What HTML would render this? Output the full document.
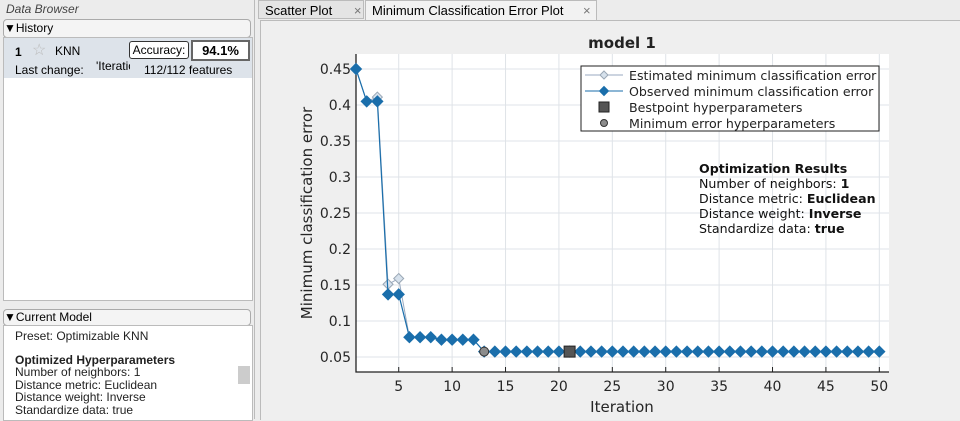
<!DOCTYPE html>
<html><head><meta charset="utf-8"><style>
body{margin:0;width:960px;height:419px;background:#ececec;font-family:"Liberation Sans",sans-serif;overflow:hidden;position:relative}
.abs{position:absolute}
</style></head><body>
<div class="abs" style="left:0;top:0;width:254px;height:419px;background:#ececec;border-right:1px solid #bbb">
 <div class="abs" style="left:6px;top:2px;font-size:12px;font-style:italic;color:#444">Data Browser</div>
 <div class="abs" style="left:3px;top:19px;width:246px;height:17px;border:1px solid #aaa;border-radius:4px;background:#f4f4f4;font-size:12px;line-height:17px">&#9660;History</div>
 <div class="abs" style="left:3px;top:37px;width:248px;height:262px;background:#fff;border:1px solid #bbb">
  <div class="abs" style="left:0;top:0;width:248px;height:40px;background:#dde3ea;font-size:12px">
   <span class="abs" style="left:11px;top:7px;font-weight:bold">1</span>
   <span class="abs" style="left:28px;top:2px;color:#bbb;font-size:16px">☆</span>
   <span class="abs" style="left:51px;top:6px">KNN</span>
   <span class="abs" style="left:125px;top:3px;width:58px;height:16px;border:1px solid #333;border-radius:3px;background:#fff;text-align:center;line-height:16px">Accuracy:</span>
   <span class="abs" style="left:187px;top:2px;width:55px;height:17px;border:2px solid #666;background:#fff;text-align:center;line-height:17px;font-weight:bold;font-size:13px">94.1%</span>
   <span class="abs" style="left:11px;top:25px">Last change:</span>
   <span class="abs" style="left:92px;top:21px;width:34px;overflow:hidden;height:14px">'Iteratio</span>
   <span class="abs" style="left:140px;top:25px">112/112 features</span>
  </div>
 </div>
 <div class="abs" style="left:3px;top:309px;width:246px;height:15px;border:1px solid #aaa;border-radius:4px;background:#f4f4f4;font-size:12px;line-height:15px">&#9660;Current Model</div>
 <div class="abs" style="left:3px;top:325px;width:248px;height:94px;background:#fff;border:1px solid #bbb;font-size:12px;line-height:12.5px;color:#222">
  <div class="abs" style="left:11px;top:4px">Preset: Optimizable KNN</div>
  <div class="abs" style="left:11px;top:28px;font-weight:bold">Optimized Hyperparameters</div>
  <div class="abs" style="left:11px;top:40px">Number of neighbors: 1<br>Distance metric: Euclidean<br>Distance weight: Inverse<br>Standardize data: true</div>
  <div class="abs" style="left:234px;top:40px;width:12px;height:18px;background:#ccc"></div>
 </div>
</div>
<div class="abs" style="left:258px;top:0;width:106px;height:19px;border:1px solid #bbb;background:#e4e4e4;font-size:13px;line-height:19px;padding-left:6px;box-sizing:border-box">Scatter Plot <span style="margin-left:18px;color:#777">×</span></div>
<div class="abs" style="left:365px;top:0;width:232px;height:20px;border:1px solid #bbb;border-bottom:none;background:#f2f2f2;font-size:13px;line-height:19px;padding-left:6px;box-sizing:border-box">Minimum Classification Error Plot <span style="margin-left:16px;color:#777">×</span></div>
<div class="abs" style="left:260px;top:20px;width:699px;height:399px;border-left:1px solid #bbb;border-top:1px solid #bbb;background:#efefef"></div>
<svg class="abs" style="left:0;top:0" width="960" height="419" id="chart"></svg>
<script>
const iterations=[];for(let i=1;i<=50;i++)iterations.push(i);
const observed=[0.45,0.405,0.405,0.137,0.137,0.0775,0.0775,0.0775,0.074,0.074,0.074,0.074,0.0575,0.0575,0.0575,0.0575,0.0575,0.0575,0.0575,0.0575,0.0575,0.0575,0.0575,0.0575,0.0575,0.0575,0.0575,0.0575,0.0575,0.0575,0.0575,0.0575,0.0575,0.0575,0.0575,0.0575,0.0575,0.0575,0.0575,0.0575,0.0575,0.0575,0.0575,0.0575,0.0575,0.0575,0.0575,0.0575,0.0575,0.0575];
const estimated=[0.45,0.405,0.411,0.151,0.159,0.0775,0.0775,0.0775,0.074,0.074,0.074,0.074,0.0575,0.0575,0.0575,0.0575,0.0575,0.0575,0.0575,0.0575,0.0575,0.0575,0.0575,0.0575,0.0575,0.0575,0.0575,0.0575,0.0575,0.0575,0.0575,0.0575,0.0575,0.0575,0.0575,0.0575,0.0575,0.0575,0.0575,0.0575,0.0575,0.0575,0.0575,0.0575,0.0575,0.0575,0.0575,0.0575,0.0575,0.0575];
const bestpoint=[21,0.0575];
const minErrorPoint=[13,0.0575];
const xTicks=[5,10,15,20,25,30,35,40,45,50];
const yTicks=[0.05,0.1,0.15,0.2,0.25,0.3,0.35,0.4,0.45];
const yTickLabels=["0.05","0.1","0.15","0.2","0.25","0.3","0.35","0.4","0.45"];
const L=356,R=889,T=54,B=372;
const X=v=>356+(v-1)*10.68;
const Y=v=>69+(0.45-v)*720;
const svg=document.getElementById('chart');const NS='http://www.w3.org/2000/svg';
function mk(tag,attrs,txt){const e=document.createElementNS(NS,tag);for(const k in attrs)e.setAttribute(k,attrs[k]);if(txt!==undefined)e.textContent=txt;svg.appendChild(e);return e;}
let e=mk('rect',{x:L,y:T,width:R-L,height:B-T,fill:'#fff'});


xTicks.forEach(t=>{let g=mk('line',{x1:X(t),x2:X(t),y1:T,y2:B,stroke:'#dfe3e8'});


let l=mk('line',{x1:X(t),x2:X(t),y1:B,y2:B-5,stroke:'#222'});


let tx=mk('text',{x:X(t),y:B+19,'font-size':14,'text-anchor':'middle',fill:'#262626','font-family':'DejaVu Sans'},String(t));

});
yTicks.forEach((t,i)=>{let g=mk('line',{x1:L,x2:R,y1:Y(t),y2:Y(t),stroke:'#dfe3e8'});


let tx=mk('text',{x:L-5,y:Y(t)+5,'font-size':14,'text-anchor':'end',fill:'#262626','font-family':'DejaVu Sans'},yTickLabels[i]);

});
e=mk('path',{d:`M${L} ${T}V${B}H${R}`,fill:'none',stroke:'#222','stroke-width':1.3});


function dia(x,y,r,f,s){return mk('path',{d:`M${x} ${y-r}L${x+r} ${y}L${x} ${y+r}L${x-r} ${y}Z`,fill:f,stroke:s});}
e=mk('polyline',{points:iterations.map((v,i)=>X(v)+','+Y(estimated[i])).join(' '),fill:'none',stroke:'#9aaac0','stroke-width':1});


iterations.forEach((v,i)=>{let d=dia(X(v),Y(estimated[i]),5,'#d6e1ec','#9aa7b5');

});
e=mk('polyline',{points:iterations.map((v,i)=>X(v)+','+Y(observed[i])).join(' '),fill:'none',stroke:'#1a6eab','stroke-width':1.2});


iterations.forEach((v,i)=>{let d=dia(X(v),Y(observed[i]),5.5,'#1a6eab','#1a6eab');

});
e=mk('circle',{cx:X(minErrorPoint[0]),cy:Y(minErrorPoint[1]),r:4.5,fill:'#8c8c8c',stroke:'#333'});


e=mk('rect',{x:X(bestpoint[0])-5.5,y:Y(bestpoint[1])-5.5,width:11,height:11,fill:'#555',stroke:'#222'});


e=mk('text',{x:622,y:48,'font-size':15,'font-weight':'bold','text-anchor':'middle',fill:'#222','font-family':'DejaVu Sans'},'model 1');


e=mk('text',{x:622,y:412,'font-size':15,'text-anchor':'middle',fill:'#262626','font-family':'DejaVu Sans'},'Iteration');


e=mk('text',{x:312,y:213,'font-size':15,'text-anchor':'middle',fill:'#262626','font-family':'DejaVu Sans',transform:'rotate(-90 312 213)'},'Minimum classification error');


e=mk('rect',{x:581,y:66,width:298,height:65,fill:'#fff',stroke:'#222'});


const legend=[['Estimated minimum classification error','est'],['Observed minimum classification error','obs'],['Bestpoint hyperparameters','best'],['Minimum error hyperparameters','min']];
legend.forEach((l,i)=>{const y=75+i*16;
if(l[1]=='est'){mk('line',{x1:585,x2:623,y1:y,y2:y,stroke:'#9aaac0'});dia(604,y,4,'#d6e1ec','#9aa7b5');}
if(l[1]=='obs'){mk('line',{x1:585,x2:623,y1:y,y2:y,stroke:'#1a6eab'});dia(604,y,4.5,'#1a6eab','#1a6eab');}
if(l[1]=='best')mk('rect',{x:599,y:y-5,width:10,height:10,fill:'#555',stroke:'#222'});
if(l[1]=='min')mk('circle',{cx:604,cy:y,r:3.5,fill:'#8c8c8c',stroke:'#333'});
let t=mk('text',{x:629,y:y+5,'font-size':12.6,fill:'#222','font-family':'DejaVu Sans'},l[0]);

});
const res=[['Optimization Results','',true],['Number of neighbors: ','1'],['Distance metric: ','Euclidean'],['Distance weight: ','Inverse'],['Standardize data: ','true']];
res.forEach((r,i)=>{let t=mk('text',{x:699,y:173+i*15,'font-size':12.6,fill:'#111','font-family':'DejaVu Sans','font-weight':r[2]?'bold':'normal'},r[0]);


if(r[1]){const s=document.createElementNS(NS,'tspan');s.setAttribute('font-weight','bold');s.textContent=r[1];t.appendChild(s);}});
</script>
</body></html>
